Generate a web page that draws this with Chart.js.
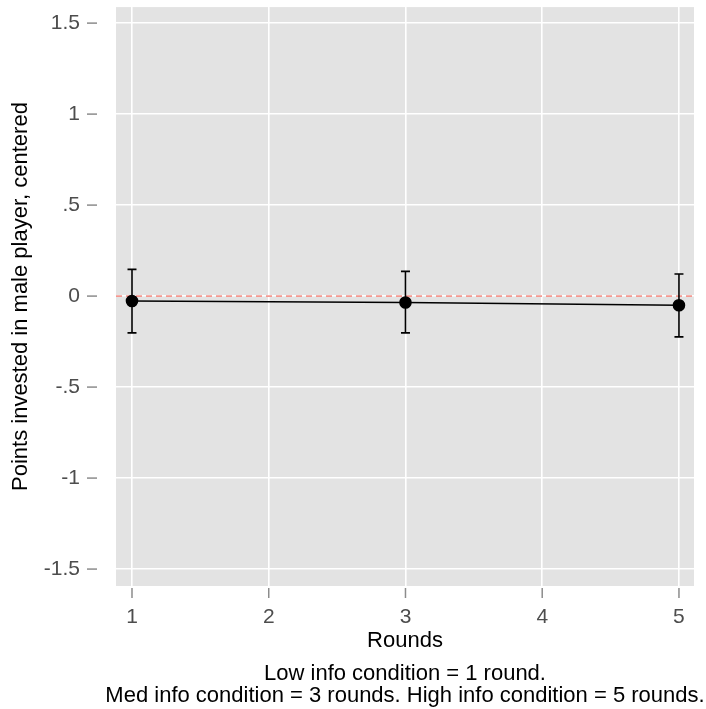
<!DOCTYPE html>
<html>
<head>
<meta charset="utf-8">
<script src="https://cdn.jsdelivr.net/npm/chart.js@4.4.1/dist/chart.umd.min.js"></script>
<style>
  body { margin: 0; background: #fff; }
  #wrap { width: 706px; height: 709px; }
</style>
</head>
<body>
<div id="wrap"><canvas id="roundsChart" width="706" height="709"></canvas></div>
<script>
// data
const rounds = [1, 3, 5];
const meanPoints = [-0.027, -0.035, -0.05];
const upperPoints = [0.147, 0.136, 0.121];
const lowerPoints = [-0.202, -0.202, -0.224];
const xTicks = [1, 2, 3, 4, 5];
const yTicks = [-1.5, -1, -0.5, 0, 0.5, 1, 1.5];
const yTickLabels = ['-1.5', '-1', '-.5', '0', '.5', '1', '1.5'];
const refValue = 0;
const captionLines = ['Low info condition = 1 round.', 'Med info condition = 3 rounds. High info condition = 5 rounds.'];

const FONT = '"Liberation Sans", Arial, sans-serif';

// grey panel behind the plot
const panelBg = {
    id: 'panelBg',
    beforeDraw(chart) {
        const { ctx, chartArea: a } = chart;
        ctx.save();
        ctx.fillStyle = '#E3E3E3';
        ctx.fillRect(a.left, a.top, a.right - a.left, a.bottom - a.top);
        ctx.restore();
    }
};

// dashed reference line + error bars
const errorBars = {
    id: 'errorBars',
    beforeDatasetsDraw(chart) {
        const { ctx, chartArea: a, scales: { x, y } } = chart;
        ctx.save();
        const y0 = y.getPixelForValue(refValue);
        ctx.strokeStyle = '#F5978F';
        ctx.lineWidth = 1.8;
        ctx.setLineDash([6, 4]);
        ctx.beginPath();
        ctx.moveTo(a.left, y0);
        ctx.lineTo(a.right, y0);
        ctx.stroke();
        ctx.setLineDash([]);

        ctx.strokeStyle = '#000';
        ctx.lineWidth = 1.6;
        rounds.forEach((r, i) => {
            const px = x.getPixelForValue(r);
            const top = y.getPixelForValue(upperPoints[i]);
            const bot = y.getPixelForValue(lowerPoints[i]);
            ctx.beginPath();
            ctx.moveTo(px, top); ctx.lineTo(px, bot);
            ctx.moveTo(px - 4.5, top); ctx.lineTo(px + 4.5, top);
            ctx.moveTo(px - 4.5, bot); ctx.lineTo(px + 4.5, bot);
            ctx.stroke();
        });
        ctx.restore();
    }
};

// tick marks (sitting a little away from the panel on the y side) and caption
const extras = {
    id: 'extras',
    afterDraw(chart) {
        const { ctx, chartArea: a, scales: { x, y } } = chart;
        ctx.save();
        ctx.strokeStyle = '#8C8C8C';
        ctx.lineWidth = 1.5;
        yTicks.forEach(v => {
            const py = y.getPixelForValue(v);
            ctx.beginPath();
            ctx.moveTo(87, py); ctx.lineTo(97, py);
            ctx.stroke();
        });
        xTicks.forEach(v => {
            const px = x.getPixelForValue(v);
            ctx.beginPath();
            ctx.moveTo(px, a.bottom + 2); ctx.lineTo(px, a.bottom + 12);
            ctx.stroke();
        });

        ctx.fillStyle = '#000';
        ctx.font = '22px ' + FONT;
        ctx.textAlign = 'center';
        ctx.textBaseline = 'alphabetic';
        const cx = (a.left + a.right) / 2;
        ctx.fillText(captionLines[0], cx, 680);
        ctx.fillText(captionLines[1], cx, 702);
        ctx.restore();
    }
};

const ctx = document.getElementById('roundsChart').getContext('2d');
new Chart(ctx, {
    type: 'line',
    data: {
        datasets: [{
            data: rounds.map((r, i) => ({ x: r, y: meanPoints[i] })),
            borderColor: '#000',
            backgroundColor: '#000',
            borderWidth: 1.6,
            pointRadius: 5.5,
            pointHoverRadius: 5.5,
            tension: 0
        }]
    },
    options: {
        responsive: false,
        animation: false,
        layout: { padding: { left: 0, right: 12, top: 7, bottom: 0 } },
        plugins: {
            legend: { display: false },
            tooltip: { enabled: false }
        },
        scales: {
            x: {
                type: 'linear',
                min: 0.883,
                max: 5.11,
                afterBuildTicks: s => { s.ticks = xTicks.map(v => ({ value: v })); },
                afterFit: s => { s.height = 123; },
                grid: { color: '#FFFFFF', lineWidth: 1.6, drawTicks: true, tickLength: 19, tickColor: 'rgba(0,0,0,0)' },
                border: { display: false },
                ticks: {
                    padding: 0,
                    color: '#4D4D4D',
                    font: { family: FONT, size: 21 },
                    callback: v => String(v)
                },
                title: {
                    display: true,
                    text: 'Rounds',
                    color: '#000',
                    font: { family: FONT, size: 22 },
                    padding: { top: 0, bottom: 55 }
                }
            },
            y: {
                min: -1.593,
                max: 1.588,
                afterBuildTicks: s => { s.ticks = yTicks.map(v => ({ value: v })); },
                afterFit: s => { s.width = 116; },
                grid: { color: '#FFFFFF', lineWidth: 1.6, drawTicks: true, tickLength: 36, tickColor: 'rgba(0,0,0,0)' },
                border: { display: false },
                ticks: {
                    padding: 0,
                    color: '#4D4D4D',
                    font: { family: FONT, size: 21, lineHeight: 0.6 },
                    callback: v => yTickLabels[yTicks.indexOf(v)]
                },
                title: {
                    display: true,
                    text: 'Points invested in male player, centered',
                    color: '#000',
                    font: { family: FONT, size: 22 },
                    padding: { top: 8, bottom: 0 }
                }
            }
        }
    },
    plugins: [panelBg, errorBars, extras]
});
</script>
</body>
</html>
